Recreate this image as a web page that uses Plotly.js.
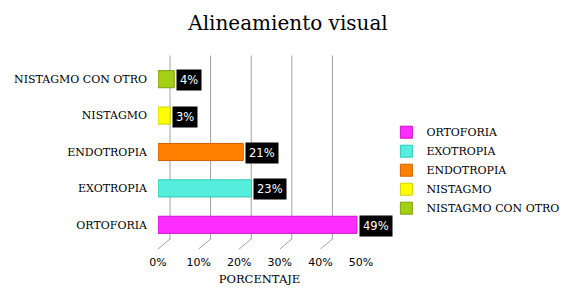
<!DOCTYPE html>
<html><head><meta charset="utf-8">
<script src="https://cdn.plot.ly/plotly-3.0.1.min.js"></script>
<style>html,body{margin:0;padding:0;background:#fff}#c{width:576px;height:305px}</style>
</head><body><div id="c"></div>
<script>
const categories = ["ORTOFORIA", "EXOTROPIA", "ENDOTROPIA", "NISTAGMO", "NISTAGMO CON OTRO"];
const values = [0.49, 0.23, 0.21, 0.03, 0.04];
const labels = ["49%", "23%", "21%", "3%", "4%"];
const colors = ["#ff2dff", "#55eedd", "#ff8000", "#ffff00", "#a4cf14"];
const edgeColors = ["#cc10cc", "#30c8b8", "#d06000", "#d0d000", "#7fa010"];
const tickVals = [0, 0.1, 0.2, 0.3, 0.4, 0.5];
const tickText = ["0%", "10%", "20%", "30%", "40%", "50%"];

const serif = "DejaVu Serif, serif";
const sans = "DejaVu Sans, Verdana, sans-serif";

const traces = categories.map((c, i) => ({
  type: "bar", orientation: "h", name: c,
  y: [c], x: [values[i]],
  marker: {color: colors[i], line: {color: edgeColors[i], width: 1}},
  hoverinfo: "none"
}));

const annotations = categories.map((c, i) => ({
  x: values[i], y: c, xref: "x", yref: "y", text: labels[i],
  showarrow: false, xanchor: "left", xshift: 2, yshift: -1,
  bgcolor: "#000", borderpad: 3,
  font: {family: sans, size: 11.5, color: "#fff"}
}));

const shapes = [];
tickVals.forEach(t => {
  shapes.push({type: "line", layer: "below", xref: "x", yref: "paper", xsizemode: "pixel", xanchor: t,
    x0: 12, x1: 12, y0: 1.03, y1: 0.02, line: {color: "#a0a0a0", width: 1}});
  shapes.push({type: "line", layer: "below", xref: "x", yref: "paper", xsizemode: "pixel", ysizemode: "pixel",
    xanchor: t, yanchor: 0, x0: 12, y0: 4, x1: 0, y1: -6, line: {color: "#a0a0a0", width: 1}});
});

const layout = {
  width: 576, height: 305,
  margin: {l: 158, r: 210, t: 61, b: 62},
  paper_bgcolor: "#fff", plot_bgcolor: "rgba(0,0,0,0)",
  title: {text: "Alineamiento visual", x: 0.5, xanchor: "center", y: 0.925, yanchor: "middle",
    font: {family: serif, size: 20, color: "#000"}},
  barmode: "overlay", bargap: 0.53,
  showlegend: true,
  legend: {x: 1.125, xanchor: "left", y: 0.40, yanchor: "middle", traceorder: "normal",
    font: {family: serif, size: 11, color: "#000"}, itemwidth: 30, tracegroupgap: 0},
  xaxis: {range: [0, 0.5], tickvals: tickVals, ticktext: tickText, showgrid: false,
    zeroline: false, showline: false, ticks: "", ticklabelstandoff: 11,
    tickfont: {family: sans, size: 11, color: "#000"},
    title: {text: "PORCENTAJE", standoff: 6, font: {family: serif, size: 11.5, color: "#000"}}},
  yaxis: {type: "category", categoryorder: "array", categoryarray: categories,
    showgrid: false, zeroline: false, showline: false, ticks: "", ticklabelstandoff: 10,
    tickfont: {family: serif, size: 11, color: "#000"}},
  annotations: annotations,
  shapes: shapes
};

Plotly.newPlot("c", traces, layout, {displayModeBar: false, staticPlot: true});
</script></body></html>
